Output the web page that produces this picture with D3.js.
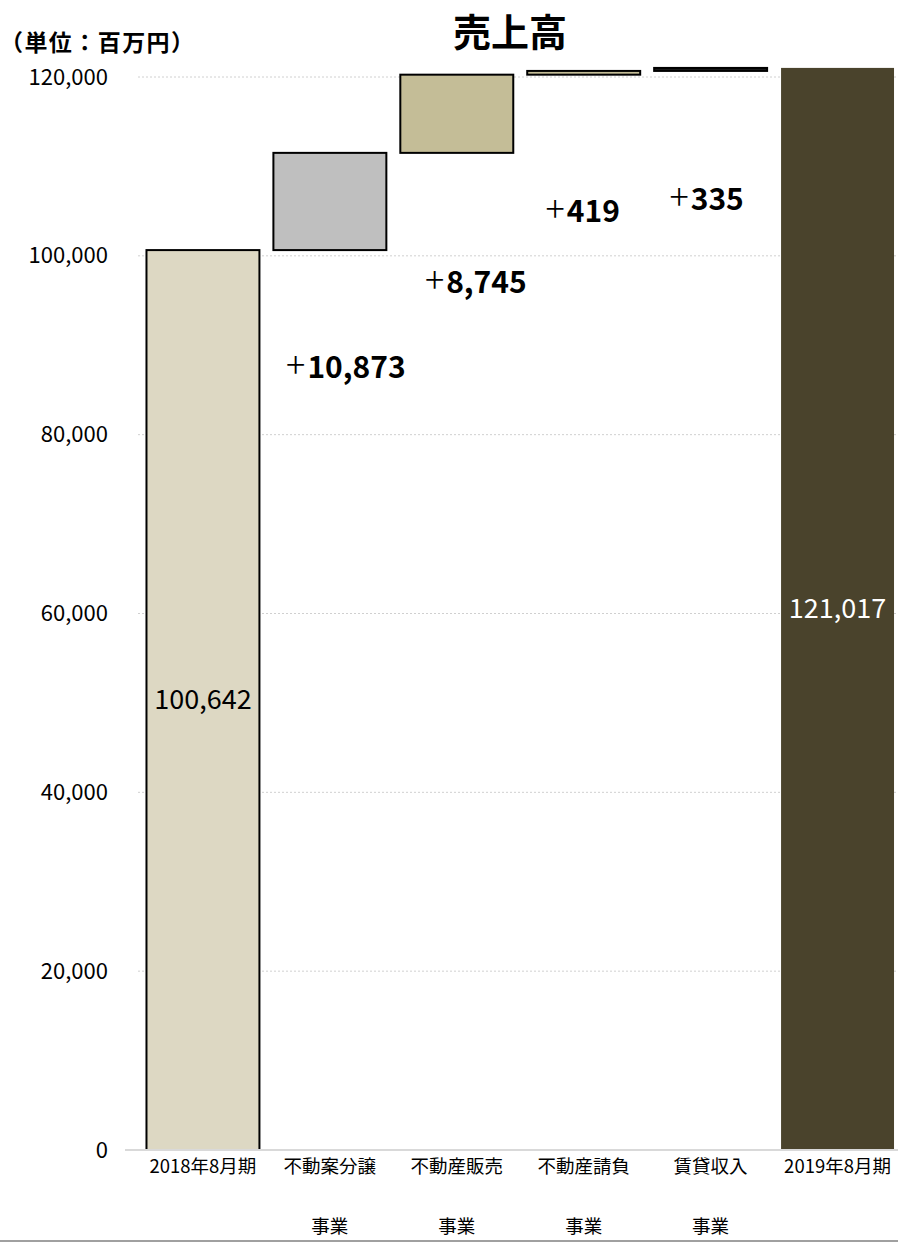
<!DOCTYPE html>
<html><head><meta charset="utf-8">
<script src="https://cdn.jsdelivr.net/npm/d3@7"></script>
<style>
html,body{margin:0;padding:0;background:#fff;}
text{font-family:"Noto Sans CJK JP","Noto Sans",sans-serif;}
</style></head>
<body>
<svg id="chart" width="898" height="1243"></svg>
<script>
// ---- data ----
const categories = ["2018年8月期", "不動案分譲\n事業", "不動産販売\n事業", "不動産請負\n事業", "賃貸収入\n事業", "2019年8月期"];
const kinds = ["total", "delta", "delta", "delta", "delta", "total"];
const values = [100642, 10873, 8745, 419, 335, 121017];
const yTicks = [0, 20000, 40000, 60000, 80000, 100000, 120000];
const fills = ["#DDD8C3", "#BFBFBF", "#C4BD97", "#C4BD97", "#1a1a1a", "#4A432C"];
const title = "売上高";
const unitLabel = "（単位：百万円）";
// label layout (pixel offsets, not data)
const deltaLabelDx = [0, 16, 19, -1, -4, 0];
const deltaLabelDy = [0, 128, 140, 147, 139, 0];

// ---- build waterfall ----
let run = 0;
const bars = categories.map((c, i) => {
  let y0, y1;
  if (kinds[i] === "total") { y0 = 0; y1 = values[i]; run = values[i]; }
  else { y0 = run; y1 = run + values[i]; run = y1; }
  return {cat: c, i, y0, y1, v: values[i], kind: kinds[i]};
});

const svg = d3.select("#chart");

const x = d3.scaleBand().domain(categories).range([139.5, 901]).paddingInner(0.11).paddingOuter(0.055);
const y = d3.scaleLinear().domain([0, 120000]).range([1150, 77]);

// gridlines
svg.append("g").selectAll("line").data(yTicks.filter(t => t > 0)).join("line")
  .attr("x1", 138).attr("x2", 898)
  .attr("y1", d => y(d)).attr("y2", d => y(d))
  .attr("stroke", "#D0D0D0").attr("stroke-width", 1).attr("stroke-dasharray", "2,2");

// y axis labels
const yAxis = d3.axisLeft(y).tickValues(yTicks).tickSize(0).tickPadding(0)
  .tickFormat(d3.format(","));
const ga = svg.append("g").attr("transform", "translate(108,0)").call(yAxis);
ga.select(".domain").remove();
ga.selectAll("text").attr("font-size", 22).attr("fill", "#000")
  .style("font-family", '"Noto Sans CJK JP", sans-serif');

// bars
svg.append("g").selectAll("rect").data(bars).join("rect")
  .attr("x", d => x(d.cat))
  .attr("width", x.bandwidth())
  .attr("y", d => y(Math.max(d.y0, d.y1)))
  .attr("height", d => Math.abs(y(d.y0) - y(d.y1)))
  .attr("fill", d => fills[d.i])
  .attr("stroke", d => d.i === 5 ? "none" : "#000")
  .attr("stroke-width", 2);

// baseline
svg.append("line").attr("x1", 125).attr("x2", 898).attr("y1", y(0)).attr("y2", y(0))
  .attr("stroke", "#D9D9D9").attr("stroke-width", 2);

// total labels inside
svg.append("g").selectAll("text").data(bars.filter(d => d.kind === "total")).join("text")
  .attr("x", d => x(d.cat) + x.bandwidth() / 2)
  .attr("y", d => y(d.y1 / 2))
  .attr("dy", "0.35em")
  .attr("text-anchor", "middle")
  .attr("font-size", 27)
  .attr("fill", d => d.i === 5 ? "#fff" : "#000")
  .text(d => d3.format(",")(d.v));

// delta labels
const dl = svg.append("g").selectAll("text").data(bars.filter(d => d.kind === "delta")).join("text")
  .attr("x", d => x(d.cat) + x.bandwidth() / 2 + deltaLabelDx[d.i])
  .attr("y", d => y(d.y0) + deltaLabelDy[d.i])
  .attr("text-anchor", "middle")
  .attr("font-size", 30)
  .attr("fill", "#000");
dl.append("tspan").attr("font-weight", 200).attr("font-size", 36).attr("dx", 0).text("+");
dl.append("tspan").attr("font-weight", 700).attr("dx", 2).text(d => d3.format(",")(d.v));

// x labels
const xl = svg.append("g").selectAll("text").data(categories).join("text")
  .attr("x", d => x(d) + x.bandwidth() / 2)
  .attr("y", 1173)
  .attr("text-anchor", "middle")
  .attr("font-size", 18.5)
  .attr("fill", "#000");
xl.each(function(d) {
  const parts = d.split("\n");
  const t = d3.select(this);
  parts.forEach((p, k) => {
    t.append("tspan").attr("x", x(d) + x.bandwidth() / 2).attr("dy", k === 0 ? 0 : 60).text(p);
  });
});

// title
svg.append("text").attr("x", 510).attr("y", 46).attr("text-anchor", "middle")
  .attr("font-size", 38).attr("font-weight", 700).text(title);

// unit label
svg.append("text").attr("x", 0).attr("y", 51).attr("font-size", 23).attr("font-weight", 700)
  .attr("textLength", 194).attr("lengthAdjust", "spacing").text(unitLabel);

// bottom border
svg.append("line").attr("x1", 0).attr("x2", 898).attr("y1", 1241).attr("y2", 1241)
  .attr("stroke", "#808080").attr("stroke-width", 1.5);
</script>
</body></html>
